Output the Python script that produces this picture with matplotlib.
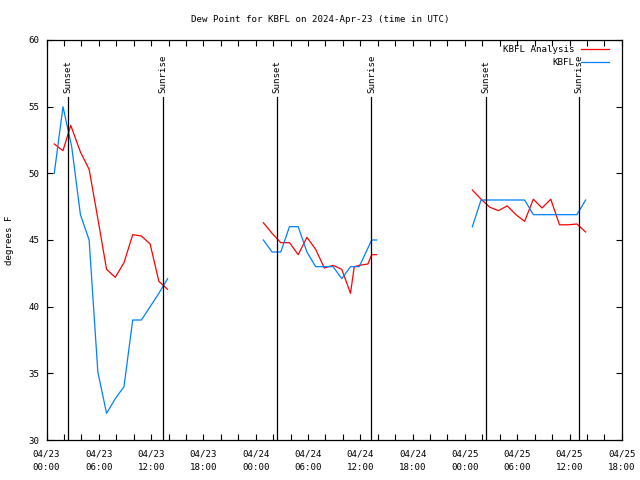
import matplotlib
matplotlib.use("Agg")
import matplotlib.pyplot as plt
from matplotlib.ticker import MultipleLocator

# ---- data (hours since 2024-04-23 00:00 UTC) ----
obs_hours = [0.88, 1.88, 2.88, 3.88, 4.88, 5.88, 6.88, 7.88, 8.88, 9.88, 10.88, 11.88, 12.88, 13.88,
             None,
             24.87, 25.87, 26.87, 27.87, 28.87, 29.87, 30.87, 31.87, 32.87, 33.87, 34.87, 35.87, 37.3, 37.87,
             None,
             48.85, 49.85, 50.85, 51.85, 52.85, 53.85, 54.85, 55.85, 56.85, 57.85, 58.85, 59.85, 60.85, 61.85]
obs_dewpt = [50.0, 55.0, 52.0, 46.9, 45.0, 35.1, 32.0, 33.1, 34.0, 39.0, 39.0, 40.0, 41.0, 42.1,
             None,
             45.0, 44.1, 44.1, 46.0, 46.0, 44.1, 43.0, 43.0, 43.0, 42.1, 43.0, 43.0, 45.0, 45.0,
             None,
             46.0, 48.0, 48.0, 48.0, 48.0, 48.0, 48.0, 46.9, 46.9, 46.9, 46.9, 46.9, 46.9, 48.0]

ana_hours = [0.88, 1.88, 2.77, 3.88, 4.88, 5.88, 6.88, 7.88, 8.88, 9.88, 10.88, 11.88, 12.88, 13.88,
             None,
             24.87, 25.87, 26.87, 27.87, 28.87, 29.87, 30.87, 31.87, 32.87, 33.87, 34.87, 35.3, 35.87, 36.87, 37.3, 37.87,
             None,
             48.85, 49.85, 50.85, 51.85, 52.85, 53.85, 54.85, 55.85, 56.85, 57.85, 58.85, 59.85, 60.85, 61.85]
ana_dewpt = [52.2, 51.7, 53.6, 51.6, 50.3, 46.6, 42.8, 42.2, 43.3, 45.4, 45.3, 44.7, 41.9, 41.3,
             None,
             46.3, 45.5, 44.8, 44.8, 43.9, 45.2, 44.3, 42.9, 43.1, 42.8, 41.0, 43.0, 43.1, 43.2, 43.9, 43.9,
             None,
             48.75, 48.06, 47.46, 47.2, 47.56, 46.9, 46.4, 48.06, 47.4, 48.06, 46.14, 46.14, 46.2, 45.6]

sunset_hours = [2.49, 26.47, 50.45]
sunrise_hours = [13.32, 37.27, 61.13]

xtick_hours = [0, 6, 12, 18, 24, 30, 36, 42, 48, 54, 60, 66]
xtick_labels = ["04/23\n00:00", "04/23\n06:00", "04/23\n12:00", "04/23\n18:00",
                "04/24\n00:00", "04/24\n06:00", "04/24\n12:00", "04/24\n18:00",
                "04/25\n00:00", "04/25\n06:00", "04/25\n12:00", "04/25\n18:00"]
yticks = [30, 35, 40, 45, 50, 55, 60]

title = "Dew Point for KBFL on 2024-Apr-23 (time in UTC)"
ylabel = "degrees F"
series_names = ["KBFL Analysis", "KBFL"]

# ---- style ----
FONT = "DejaVu Sans Mono"
FS = 6.6
RED = "#ff0000"
BLUE = "#0080ff"

def nan_split(xs, ys):
    return ([float('nan') if v is None else v for v in xs],
            [float('nan') if v is None else v for v in ys])

fig = plt.figure(figsize=(6.4, 4.8), dpi=100)
ax = fig.add_axes([46.6 / 640, 40 / 480, 575.2 / 640, 400 / 480])

ax.set_xlim(0, 66)
ax.set_ylim(30, 60)

ax_x, ax_y = nan_split(ana_hours, ana_dewpt)
ob_x, ob_y = nan_split(obs_hours, obs_dewpt)
ax.plot(ax_x, ax_y, color=RED, lw=0.9)
ax.plot(ob_x, ob_y, color=BLUE, lw=0.9)

line_top = 55.7
text_base = 56.0
for h in sunset_hours:
    ax.plot([h, h], [30, line_top], color="black", lw=0.9)
    ax.text(h, text_base, "Sunset", rotation=90, ha="center", va="bottom",
            fontsize=FS, family=FONT)
for h in sunrise_hours:
    ax.plot([h, h], [30, line_top], color="black", lw=0.9)
    ax.text(h, text_base, "Sunrise", rotation=90, ha="center", va="bottom",
            fontsize=FS, family=FONT)

# legend (gnuplot style, right-aligned text, sample on right)
leg_y = [0.977, 0.944]
leg_col = [RED, BLUE]
for name, yy, c in zip(series_names, leg_y, leg_col):
    ax.text(0.9175, yy, name, transform=ax.transAxes, ha="right", va="center",
            fontsize=FS, family=FONT)
    ax.plot([0.929, 0.978], [yy, yy], transform=ax.transAxes, color=c, lw=0.9)

ax.set_xticks(xtick_hours)
ax.set_xticklabels(xtick_labels, family=FONT, fontsize=FS, linespacing=1.6)
ax.xaxis.set_minor_locator(MultipleLocator(2))
ax.set_yticks(yticks)
ax.set_yticklabels([str(v) for v in yticks], family=FONT, fontsize=FS)

ax.tick_params(axis="both", which="both", direction="in", length=4, width=0.8,
               top=True, right=True)
ax.tick_params(axis="x", which="major", pad=7)
ax.tick_params(axis="y", which="major", pad=5)

for s in ax.spines.values():
    s.set_linewidth(0.9)

fig.text(320 / 640, 1 - 19 / 480, title, ha="center", va="center", fontsize=FS, family=FONT)
fig.text(10 / 640, 1 - 240 / 480, ylabel, ha="center", va="center", rotation=90,
         fontsize=FS, family=FONT)

fig.savefig("out.png", dpi=100)
